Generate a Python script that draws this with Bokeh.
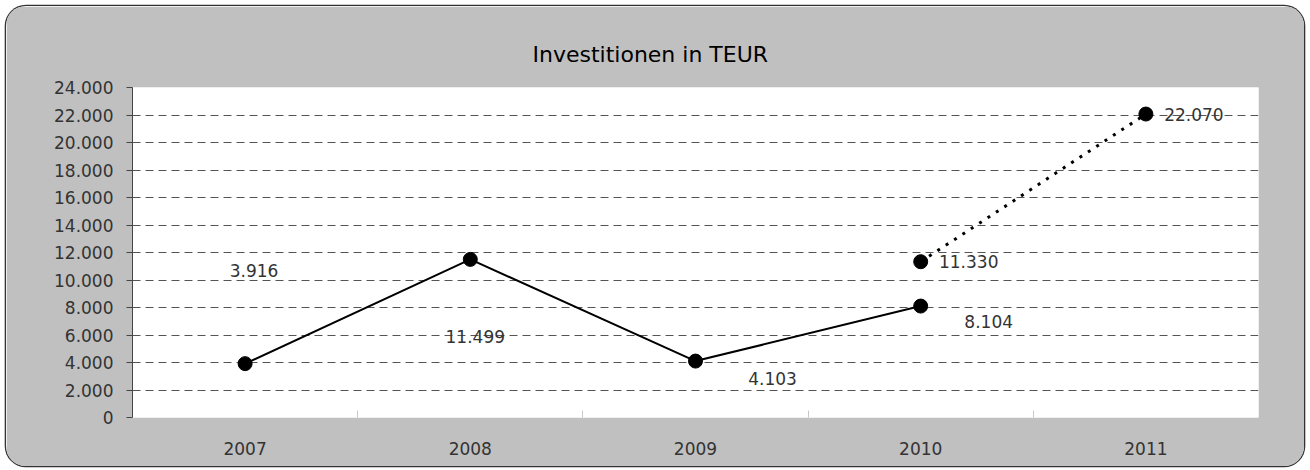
from bokeh.plotting import figure
from bokeh.models import FixedTicker, CustomJSTickFormatter, ColumnDataSource
from bokeh.core.properties import value
from bokeh.embed import file_html
from bokeh.resources import INLINE

# ---- data ----
categories = ["2007", "2008", "2009", "2010", "2011"]
actual_years = ["2007", "2008", "2009", "2010"]
actual_values = [3916, 11499, 4103, 8104]
plan_years = ["2010", "2011"]
plan_values = [11330, 22070]
y_ticks = list(range(0, 24001, 2000))
title_text = "Investitionen in TEUR"

# label offsets (pixels) - styling only
actual_dx = [9, 5, 77, 68]
actual_dy = [-93, 77, 17, 15]
plan_dx = [48, 48]
plan_dy = [0, 0]

def fmt(v):
    return f"{v:,}".replace(",", ".")

FONT = "DejaVu Sans"
W, H = 1298, 460
ML, MR, MT, MB = 126, 46, 81, 49

p = figure(width=W, height=H, output_backend="svg", toolbar_location=None,
           x_range=(-0.5, len(categories) - 0.5), y_range=(0, 24000),
           min_border_left=ML, min_border_right=MR, min_border_top=MT,
           min_border_bottom=MB, title=title_text)
p.border_fill_color = "#c0c0c0"
p.background_fill_color = "white"
p.outline_line_color = None
p.styles = {"margin": "6px 0 0 6px", "border-radius": "20px", "overflow": "hidden",
            "box-shadow": "0 0 0 1.3px #333333"}

p.title.align = "left"
p.title.offset = 400
p.title.standoff = 41
p.title.text_font = FONT
p.title.text_font_size = "22px"
p.title.text_font_style = "normal"
p.title.text_color = "black"

xi = {c: i for i, c in enumerate(categories)}

# x axis
p.xaxis.ticker = FixedTicker(ticks=list(range(len(categories))),
                             minor_ticks=[i + 0.5 for i in range(len(categories) - 1)])
p.xaxis.major_label_overrides = {i: c for i, c in enumerate(categories)}
p.xaxis.axis_line_color = None
p.xaxis.major_tick_line_color = None
p.xaxis.minor_tick_in = 7
p.xaxis.minor_tick_out = 0
p.xaxis.minor_tick_line_color = "#c8c8c8"
p.xaxis.major_label_standoff = 18
p.xaxis.major_label_text_font = FONT
p.xaxis.major_label_text_font_size = "17px"
p.xaxis.major_label_text_color = "#333333"

# y axis
p.yaxis.ticker = FixedTicker(ticks=y_ticks)
p.yaxis.formatter = CustomJSTickFormatter(
    code='return Math.round(tick).toString().replace(/\\B(?=(\\d{3})+(?!\\d))/g, ".");')
p.yaxis.axis_line_color = "#444444"
p.yaxis.major_tick_line_color = "#444444"
p.yaxis.major_tick_out = 6
p.yaxis.major_tick_in = 0
p.yaxis.minor_tick_line_color = None
p.yaxis.major_label_standoff = 13
p.yaxis.major_label_text_font = FONT
p.yaxis.major_label_text_font_size = "17px"
p.yaxis.major_label_text_color = "#333333"

p.xgrid.grid_line_color = None
p.ygrid.ticker = FixedTicker(ticks=y_ticks[1:])
p.ygrid.grid_line_color = "#555555"
p.ygrid.grid_line_dash = "8 5"
p.ygrid.grid_line_width = 1

# series
src_a = ColumnDataSource(dict(x=[xi[c] for c in actual_years], y=actual_values,
                              t=[fmt(v) for v in actual_values], dx=actual_dx, dy=actual_dy))
src_p = ColumnDataSource(dict(x=[xi[c] for c in plan_years], y=plan_values,
                              t=[fmt(v) for v in plan_values], dx=plan_dx, dy=plan_dy))

p.line("x", "y", source=src_a, line_color="black", line_width=2)
p.line("x", "y", source=src_p, line_color="black", line_width=3, line_dash="3 7")
p.scatter("x", "y", source=src_a, size=14, fill_color="black", line_color="black")
p.scatter("x", "y", source=src_p, size=14, fill_color="black", line_color="black")

for src in (src_a, src_p):
    p.text("x", "y", text="t", source=src, x_offset="dx", y_offset="dy",
           text_align="center", text_baseline="middle",
           text_font=value(FONT), text_font_size="17px", text_color="#333333")

open("out.html", "w").write(file_html(p, INLINE))
